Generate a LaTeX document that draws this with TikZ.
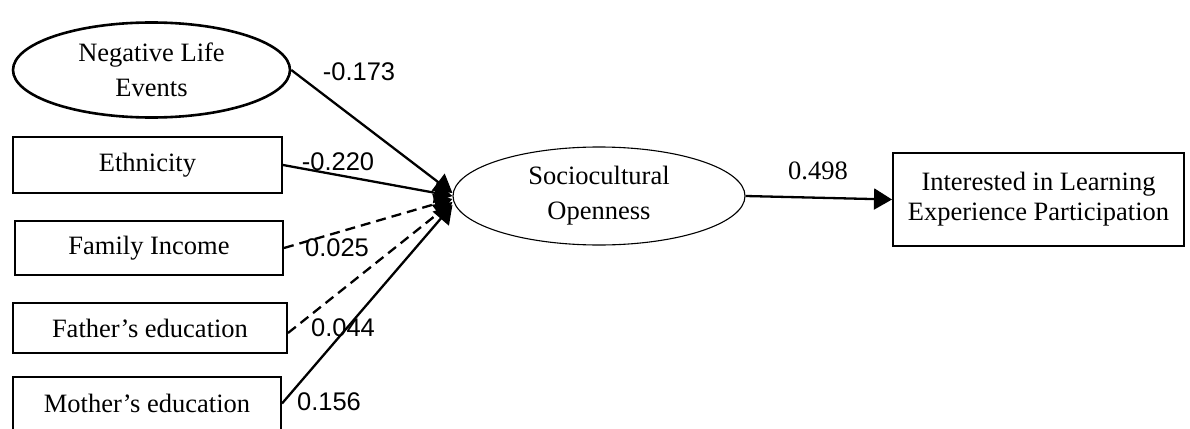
\documentclass[tikz,border=0pt]{standalone}
\usepackage{fontspec}
\setmainfont{Liberation Serif}
\newfontfamily\lsans{Liberation Sans}
\usetikzlibrary{shapes.geometric,arrows.meta}

\tikzset{
  varbox/.style={draw, line width=2pt, rectangle, inner sep=0pt,
    font=\fontsize{26.5}{30}\selectfont, align=center},
  latent/.style={draw, ellipse, inner sep=0pt,
    font=\fontsize{26.5}{35}\selectfont, align=center},
  path/.style={line width=2.3pt, -{Triangle[length=18pt,width=21pt]}},
  nspath/.style={path, dash pattern=on 10pt off 6pt},
  coef/.style={font=\lsans\fontsize{25.5}{28}\selectfont, inner sep=0pt},
  coefserif/.style={font=\fontsize{26.5}{28}\selectfont, inner sep=0pt}
}

\begin{document}
\begin{tikzpicture}[x=1pt, y=-1pt]
\useasboundingbox (0,0) rectangle (1190,428);
\clip (0,0) rectangle (1190,428);

% predictors
\node[latent, line width=2.6pt, minimum width=277pt, minimum height=95pt]
  (neg) at (151.5,70) {Negative Life\\Events};
\node[varbox, minimum width=269pt, minimum height=56pt] (eth) at (147.5,165) {Ethnicity};
\node[varbox, minimum width=268pt, minimum height=54pt] (fam) at (149,248) {Family Income};
\node[varbox, minimum width=274pt, minimum height=50pt] (fa) at (150,328) {Father’s education};
\node[varbox, minimum width=268pt, minimum height=53pt] (mo) at (147,403.5) {Mother’s education};

% mediator and outcome
\node[latent, line width=1.1pt, minimum width=292pt, minimum height=98pt]
  (soc) at (599,196) {Sociocultural\\Openness};
\node[varbox, minimum width=291pt, minimum height=93pt]
  (int) at (1038.5,199.5) {Interested in Learning\\Experience Participation};

% paths
\draw[path] (neg.east) -- ([yshift=3pt]soc.west);
\draw[path] (eth.east) -- ([yshift=0pt]soc.west);
\draw[nspath] (fam.east) -- ([yshift=-3pt]soc.west);
\draw[nspath] ([yshift=-5pt]fa.east) -- ([yshift=-6pt]soc.west);
\draw[path] (mo.east) -- ([yshift=-9pt]soc.west);
\draw[path] (soc.east) -- (int.west);

% coefficients
\node[coef] (c1) at (359,72) {-0.173};
\node[coef] (c2) at (338,162) {-0.220};
\node[coef] (c3) at (337,248) {0.025};
\node[coef] (c4) at (343,328) {0.044};
\node[coef] (c5) at (329,402) {0.156};
\node[coefserif] (c6) at (818,171) {0.498};
\end{tikzpicture}
\end{document}
